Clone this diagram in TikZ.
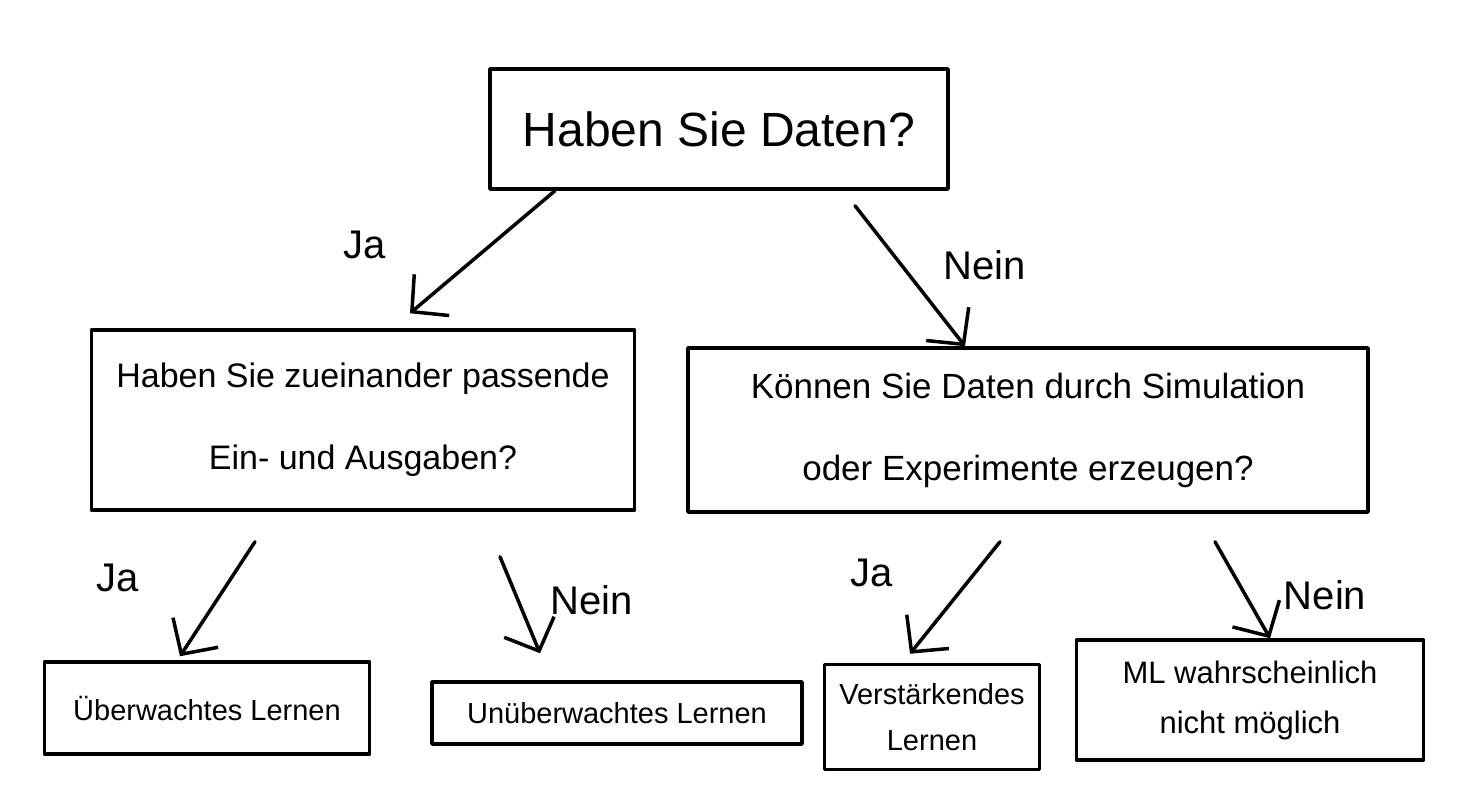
\documentclass[tikz,border=0pt]{standalone}
\usepackage{fontspec}
\setmainfont{Liberation Sans}
\usetikzlibrary{arrows.meta}
\begin{document}
\begin{tikzpicture}[x=1pt,y=-1pt,
  box/.style={draw,line width=3.5pt,align=center,inner sep=0pt,line join=round},
  arr/.style={line width=3.5pt,line cap=round,-{Straight Barb[length=26pt,width=54pt,line width=3.5pt]}},
  lbl/.style={font=\fontsize{40}{46}\selectfont}]
\useasboundingbox (0,0) rectangle (1483,797);
\node[box,minimum width=458pt,minimum height=120pt,font=\fontsize{48}{56}\selectfont] (top) at (719,129) {Haben Sie Daten?};
\node[box,minimum width=543pt,minimum height=180pt,font=\fontsize{34}{82}\selectfont] (left) at (363,420) {Haben Sie zueinander passende\\Ein- und Ausgaben?};
\node[box,minimum width=680pt,minimum height=164pt,font=\fontsize{35}{82}\selectfont] (right) at (1028,430) {Können Sie Daten durch Simulation\\oder Experimente erzeugen?};
\node[box,minimum width=325pt,minimum height=92pt,font=\fontsize{29}{34}\selectfont] (b1) at (207,708) {Überwachtes Lernen};
\node[box,minimum width=370pt,minimum height=62pt,font=\fontsize{29}{34}\selectfont] (b2) at (617,713) {Unüberwachtes Lernen};
\node[box,minimum width=215pt,minimum height=105pt,font=\fontsize{29}{46}\selectfont] (b3) at (932,717) {Verstärkendes\\Lernen};
\node[box,minimum width=347pt,minimum height=120pt,font=\fontsize{31}{50}\selectfont] (b4) at (1250,700) {ML wahrscheinlich\\nicht möglich};
\draw[arr] ([xshift=-164pt]top.south) -- ([xshift=47pt,yshift=15pt]left.north);
\draw[arr] ([xshift=136pt,yshift=-15pt]top.south) -- ([xshift=-63pt]right.north);
\draw[arr] ([xshift=-108pt,yshift=-30pt]left.south) -- ([xshift=-27pt,yshift=4pt]b1.north);
\draw[arr] ([xshift=137pt,yshift=-45pt]left.south) -- ([xshift=-77pt,yshift=27pt]b2.north);
\draw[arr] ([xshift=-28pt,yshift=-28pt]right.south) -- ([xshift=-22pt,yshift=9pt]b3.north);
\draw[arr] ([xshift=187pt,yshift=-28pt]right.south) -- ([xshift=20pt]b4.north);
\node[lbl] (l1) at (365,245) {Ja};
\node[lbl] (l2) at (985,265) {Nein};
\node[lbl] (l3) at (118,578) {Ja};
\node[lbl] (l4) at (592,600) {Nein};
\node[lbl] (l5) at (872,573) {Ja};
\node[lbl] (l6) at (1325,595) {Nein};
\end{tikzpicture}
\end{document}
